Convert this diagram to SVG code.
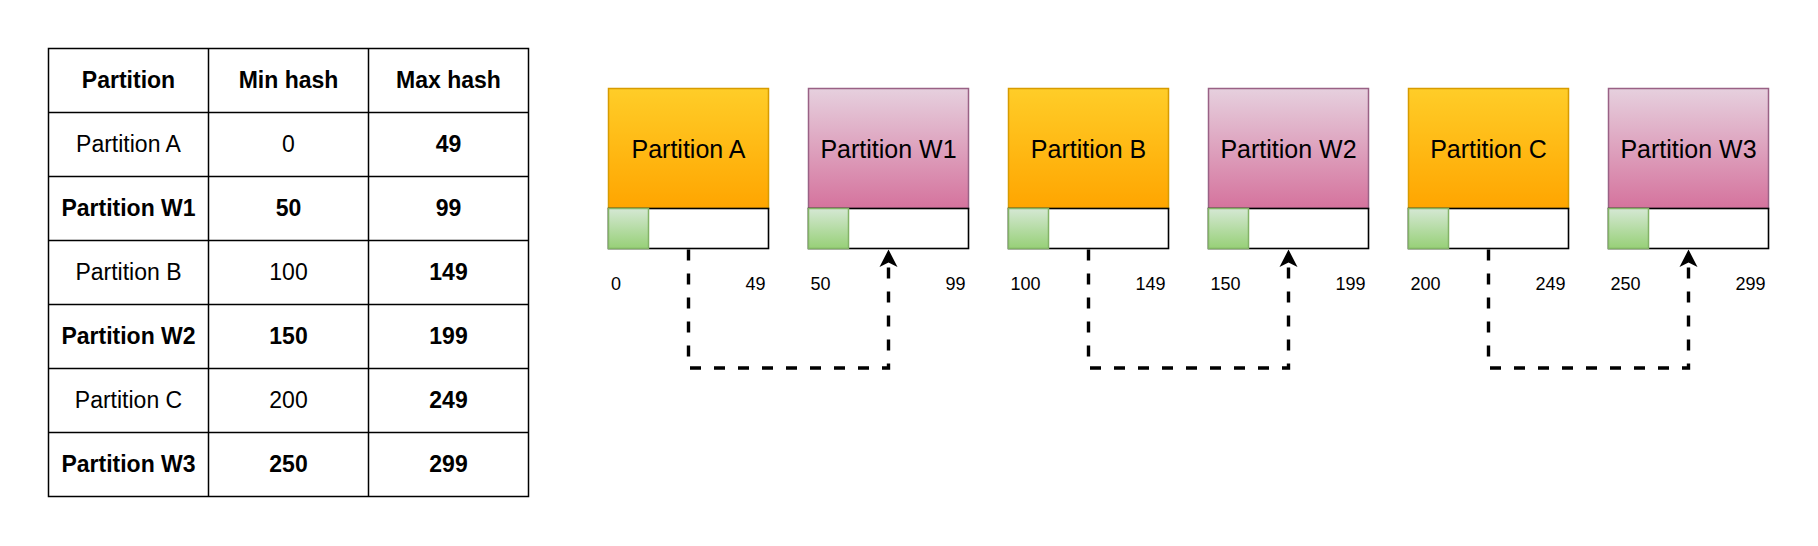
<svg xmlns="http://www.w3.org/2000/svg" width="1818" height="546" viewBox="0 0 1818 546">
<defs>
<linearGradient id="gOrange" x1="0" y1="0" x2="0" y2="1"><stop offset="0" stop-color="#ffcd28"/><stop offset="1" stop-color="#ffa500"/></linearGradient>
<linearGradient id="gPink" x1="0" y1="0" x2="0" y2="1"><stop offset="0" stop-color="#e6d0de"/><stop offset="1" stop-color="#d5739d"/></linearGradient>
<linearGradient id="gGreen" x1="0" y1="0" x2="0" y2="1"><stop offset="0" stop-color="#d5e8d4"/><stop offset="1" stop-color="#97d077"/></linearGradient>
</defs>
<style>
text{font-family:"Liberation Sans",Arial,sans-serif;fill:#000}
.tc{font-size:23px;text-anchor:middle}
.b{font-weight:bold}
.grid{stroke:#000;stroke-width:1.5;fill:none}
.orange{fill:url(#gOrange);stroke:#d79b00;stroke-width:1.5}
.pink{fill:url(#gPink);stroke:#996185;stroke-width:1.5}
.bar{fill:#fff;stroke:#000;stroke-width:1.6}
.green{fill:url(#gGreen);stroke:#82b366;stroke-width:1.5}
.name{font-size:25px;text-anchor:middle}
.lab{font-size:18px}
.lr{text-anchor:end}
.conn{fill:none;stroke:#000;stroke-width:3.4;stroke-dasharray:11 13}
</style>
<g id="table">
<rect class="grid" x="48.5" y="48.5" width="480" height="448" fill="#fff"/>
<path class="grid" d="M208.5 48.5V496.5M368.5 48.5V496.5M48.5 112.5H528.5M48.5 176.5H528.5M48.5 240.5H528.5M48.5 304.5H528.5M48.5 368.5H528.5M48.5 432.5H528.5"/>
<text class="tc b" x="128.5" y="88">Partition</text>
<text class="tc b" x="288.5" y="88">Min hash</text>
<text class="tc b" x="448.5" y="88">Max hash</text>
<text class="tc" x="128.5" y="152">Partition A</text>
<text class="tc" x="288.5" y="152">0</text>
<text class="tc b" x="448.5" y="152">49</text>
<text class="tc b" x="128.5" y="216">Partition W1</text>
<text class="tc b" x="288.5" y="216">50</text>
<text class="tc b" x="448.5" y="216">99</text>
<text class="tc" x="128.5" y="280">Partition B</text>
<text class="tc" x="288.5" y="280">100</text>
<text class="tc b" x="448.5" y="280">149</text>
<text class="tc b" x="128.5" y="344">Partition W2</text>
<text class="tc b" x="288.5" y="344">150</text>
<text class="tc b" x="448.5" y="344">199</text>
<text class="tc" x="128.5" y="408">Partition C</text>
<text class="tc" x="288.5" y="408">200</text>
<text class="tc b" x="448.5" y="408">249</text>
<text class="tc b" x="128.5" y="472">Partition W3</text>
<text class="tc b" x="288.5" y="472">250</text>
<text class="tc b" x="448.5" y="472">299</text>
</g>
<g id="partA">
<rect class="orange" x="608.5" y="88.5" width="160" height="120"/>
<rect class="bar" x="608.5" y="208.5" width="160" height="40"/>
<rect class="green" x="608.5" y="208.5" width="40" height="40"/>
<text class="name" x="688.5" y="157.5">Partition A</text>
<text class="lab" x="611" y="289.5">0</text>
<text class="lab lr" x="765.5" y="289.5">49</text>
</g>
<g id="partW1">
<rect class="pink" x="808.5" y="88.5" width="160" height="120"/>
<rect class="bar" x="808.5" y="208.5" width="160" height="40"/>
<rect class="green" x="808.5" y="208.5" width="40" height="40"/>
<text class="name" x="888.5" y="157.5">Partition W1</text>
<text class="lab" x="810.5" y="289.5">50</text>
<text class="lab lr" x="965.5" y="289.5">99</text>
</g>
<g id="partB">
<rect class="orange" x="1008.5" y="88.5" width="160" height="120"/>
<rect class="bar" x="1008.5" y="208.5" width="160" height="40"/>
<rect class="green" x="1008.5" y="208.5" width="40" height="40"/>
<text class="name" x="1088.5" y="157.5">Partition B</text>
<text class="lab" x="1010.5" y="289.5">100</text>
<text class="lab lr" x="1165.5" y="289.5">149</text>
</g>
<g id="partW2">
<rect class="pink" x="1208.5" y="88.5" width="160" height="120"/>
<rect class="bar" x="1208.5" y="208.5" width="160" height="40"/>
<rect class="green" x="1208.5" y="208.5" width="40" height="40"/>
<text class="name" x="1288.5" y="157.5">Partition W2</text>
<text class="lab" x="1210.5" y="289.5">150</text>
<text class="lab lr" x="1365.5" y="289.5">199</text>
</g>
<g id="partC">
<rect class="orange" x="1408.5" y="88.5" width="160" height="120"/>
<rect class="bar" x="1408.5" y="208.5" width="160" height="40"/>
<rect class="green" x="1408.5" y="208.5" width="40" height="40"/>
<text class="name" x="1488.5" y="157.5">Partition C</text>
<text class="lab" x="1410.5" y="289.5">200</text>
<text class="lab lr" x="1565.5" y="289.5">249</text>
</g>
<g id="partW3">
<rect class="pink" x="1608.5" y="88.5" width="160" height="120"/>
<rect class="bar" x="1608.5" y="208.5" width="160" height="40"/>
<rect class="green" x="1608.5" y="208.5" width="40" height="40"/>
<text class="name" x="1688.5" y="157.5">Partition W3</text>
<text class="lab" x="1610.5" y="289.5">250</text>
<text class="lab lr" x="1765.5" y="289.5">299</text>
</g>
<g id="connectors">
<path class="conn" d="M688.5 249.5V368H888.5V262"/>
<path d="M888.5 249.5L897.5 267L888.5 262.5L879.5 267Z" fill="#000"/>
<path class="conn" d="M1088.5 249.5V368H1288.5V262"/>
<path d="M1288.5 249.5L1297.5 267L1288.5 262.5L1279.5 267Z" fill="#000"/>
<path class="conn" d="M1488.5 249.5V368H1688.5V262"/>
<path d="M1688.5 249.5L1697.5 267L1688.5 262.5L1679.5 267Z" fill="#000"/>
</g>
</svg>
